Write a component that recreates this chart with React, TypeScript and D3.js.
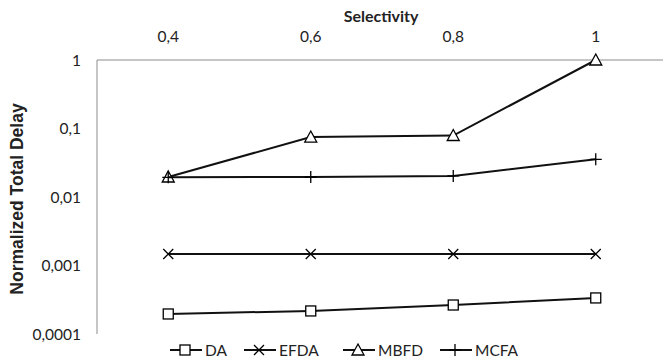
import React from "react";
import * as d3 from "d3";

const categories = ["0,4", "0,6", "0,8", "1"];
const yTicks = [1, 0.1, 0.01, 0.001, 0.0001];
const yTickLabels = ["1", "0,1", "0,01", "0,001", "0,0001"];

const daValues = [0.000196, 0.000217, 0.000265, 0.000336];
const efdaValues = [0.00147, 0.00147, 0.00147, 0.00147];
const mbfdValues = [0.0196, 0.075, 0.079, 1];
const mcfaValues = [0.0194, 0.0196, 0.0203, 0.0355];

const seriesNames = ["DA", "EFDA", "MBFD", "MCFA"];
const seriesData = [daValues, efdaValues, mbfdValues, mcfaValues];
const seriesMarkers = ["square", "x", "triangle", "plus"];

const W = 663, H = 362;
const left = 97, top = 60, right = 667, bottom = 334;
const axisColor = "#8c8c8c";
const labelFont = "Lato, 'Open Sans', sans-serif";

function Marker({ kind, x, y }: { kind: string; x: number; y: number }) {
  const s = 5;
  if (kind === "square") {
    return <rect x={x - s} y={y - s} width={s * 2} height={s * 2} fill="#fff" stroke="#000" strokeWidth={1.3} />;
  }
  if (kind === "x") {
    return (
      <path d={`M${x - s},${y - s}L${x + s},${y + s}M${x - s},${y + s}L${x + s},${y - s}`} stroke="#000" strokeWidth={1.3} />
    );
  }
  if (kind === "triangle") {
    return (
      <path d={`M${x},${y - 6}L${x + 6},${y + 5}L${x - 6},${y + 5}Z`} fill="#fff" stroke="#000" strokeWidth={1.3} />
    );
  }
  return (
    <path d={`M${x - 6},${y}L${x + 6},${y}M${x},${y - 6}L${x},${y + 6}`} stroke="#000" strokeWidth={1.3} />
  );
}

export default function App() {
  const x = d3.scaleBand().domain(categories).range([left, right]);
  const y = d3.scaleLog().domain([0.0001, 1]).range([bottom, top]);
  const cx = (c: string) => (x(c) as number) + x.bandwidth() / 2;

  const line = d3
    .line<number>()
    .x((_, i) => cx(categories[i]))
    .y((d) => y(d));

  // legend layout
  const legendX = [170, 244, 343, 440];
  const legendY = 350;

  return (
    <svg width={W} height={H} style={{ position: "absolute", left: 0, top: 0 }}>
      <rect width={W} height={H} fill="#fff" />

      {/* axes */}
      <line x1={left} x2={W} y1={top} y2={top} stroke={axisColor} strokeWidth={1} />
      <line x1={left} x2={left} y1={top} y2={bottom} stroke={axisColor} strokeWidth={1} />

      <text x={381} y={22} textAnchor="middle" fontFamily={labelFont} fontWeight="bold" fontSize={16} fill="#222">
        Selectivity
      </text>
      {categories.map((c) => (
        <text key={c} x={cx(c)} y={42} textAnchor="middle" fontFamily={labelFont} fontSize={15.5} fill="#222">
          {c}
        </text>
      ))}

      {yTicks.map((t, i) => (
        <text key={t} x={81} y={y(t) + 5.5} textAnchor="end" fontFamily={labelFont} fontSize={15.5} fill="#222">
          {yTickLabels[i]}
        </text>
      ))}
      <text
        transform={`translate(23,${(top + bottom) / 2 + 2}) rotate(-90)`}
        textAnchor="middle"
        fontFamily="'Liberation Sans', Arial, sans-serif"
        fontWeight="bold"
        fontSize={17.5}
        fill="#222"
      >
        Normalized Total Delay
      </text>

      {seriesData.map((vals, si) => (
        <g key={seriesNames[si]}>
          <path d={line(vals) || ""} fill="none" stroke="#111" strokeWidth={2} />
          {vals.map((v, i) => (
            <Marker key={i} kind={seriesMarkers[si]} x={cx(categories[i])} y={y(v)} />
          ))}
        </g>
      ))}

      {seriesNames.map((n, i) => (
        <g key={n}>
          <line x1={legendX[i]} x2={legendX[i] + 32} y1={legendY} y2={legendY} stroke="#111" strokeWidth={2} />
          <Marker kind={seriesMarkers[i]} x={legendX[i] + 15} y={legendY} />
          <text x={legendX[i] + 35} y={legendY + 5.5} fontFamily={labelFont} fontSize={15.5} fill="#222">
            {n}
          </text>
        </g>
      ))}
    </svg>
  );
}
